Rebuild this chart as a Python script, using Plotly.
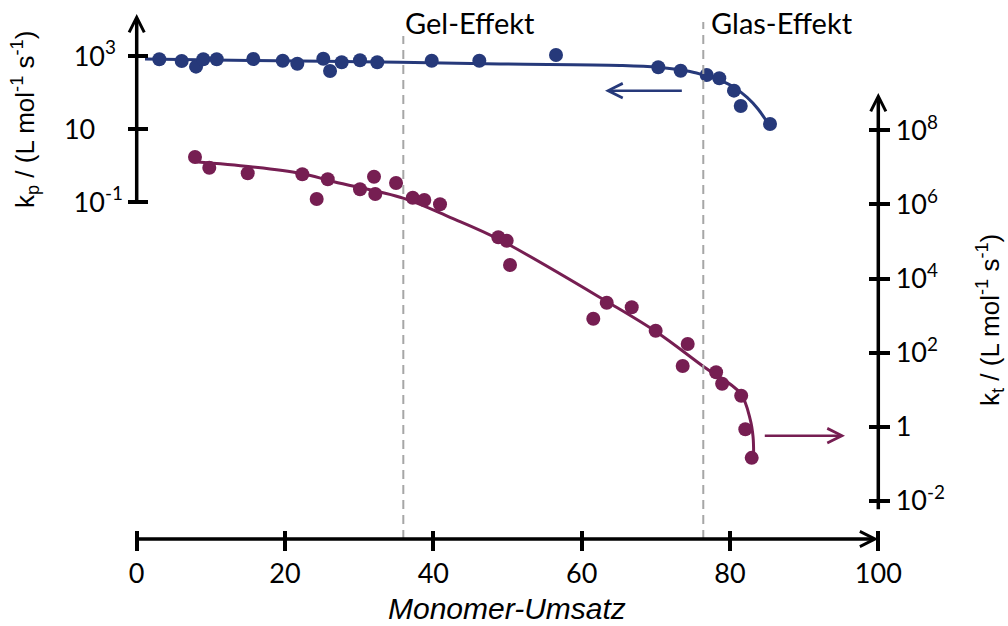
import plotly.graph_objects as go

# ---------------- data ----------------
kp_x = [3.05, 6.07, 8.00, 8.98, 10.79, 15.72, 19.69, 21.66, 25.16, 26.07, 27.64,
        30.11, 32.44, 39.78, 46.20, 56.54, 70.33, 73.35, 76.86, 78.56, 80.54,
        81.45, 85.40]
kp_y = [817, 735, 513, 817, 817, 833, 748, 619, 849, 391, 676,
        767, 676, 748, 748, 1072, 493, 398, 303, 246, 113,
        43, 13.8]

kp_fit_x = [1.12, 15.28, 35.50, 48.99, 65.17, 70.30, 74.61, 76.86, 78.66, 80.54, 82.31, 83.78, 84.99]
kp_fit_y = [833, 757, 676, 608, 553, 493, 378, 285, 215, 140, 73.5, 35.6, 15.7]

kt_x = [7.86, 9.79, 14.97, 22.33, 24.27, 25.76, 30.11, 32.00, 32.17, 34.97, 37.22,
        38.78, 40.90, 48.76, 49.89, 50.34, 61.57, 63.38, 66.75, 69.98, 73.62,
        74.30, 78.13, 78.94, 81.51, 82.07, 82.93]
kt_log = [7.282, 6.993, 6.842, 6.815, 6.148, 6.680, 6.410, 6.750, 6.283, 6.580, 6.183,
          6.121, 6.005, 5.114, 5.022, 4.366, 2.916, 3.348, 3.224, 2.592, 1.639,
          2.233, 1.469, 1.161, 0.837, -0.070, -0.840]
kt_y = [10 ** v for v in kt_log]

kt_fit_x = [7.86, 15.36, 22.10, 26.59, 36.02, 42.32, 48.83, 63.44, 70.04, 76.46,
            81.40, 82.75, 83.11, 83.19]
kt_fit_log = [7.155, 7.020, 6.842, 6.615, 6.167, 5.648, 5.060, 3.375, 2.565, 1.620,
              0.902, 0.181, -0.269, -0.718]
kt_fit_y = [10 ** v for v in kt_fit_log]

x_ticks = [0, 20, 40, 60, 80, 100]
kp_ticks = [1e3, 10, 0.1]
kp_ticktext = ["10<sup>3</sup>\u00a0", "10\u00a0\u00a0\u00a0\u00a0", "10<sup>-1</sup>"]
kt_ticks = [1e8, 1e6, 1e4, 1e2, 1, 1e-2]
kt_ticktext = ["10<sup>8</sup>", "10<sup>6</sup>", "10<sup>4</sup>", "10<sup>2</sup>", "1", "10<sup>-2</sup>"]

gel_x = 35.95
glas_x = 76.40

BLUE = "#26397A"
PURPLE = "#761E52"
W, H = 1008, 626

def px_x(p):
    return p / W

def px_y(p):
    return 1 - p / H

fig = go.Figure()
fig.add_trace(go.Scatter(x=kp_fit_x, y=kp_fit_y, mode="lines", line=dict(color=BLUE, width=3, shape="spline"),
                         yaxis="y", showlegend=False, hoverinfo="skip"))
fig.add_trace(go.Scatter(x=kp_x, y=kp_y, mode="markers", marker=dict(color=BLUE, size=14),
                         yaxis="y", showlegend=False))
fig.add_trace(go.Scatter(x=kt_fit_x, y=kt_fit_y, mode="lines", line=dict(color=PURPLE, width=3, shape="spline"),
                         yaxis="y2", showlegend=False, hoverinfo="skip"))
fig.add_trace(go.Scatter(x=kt_x, y=kt_y, mode="markers", marker=dict(color=PURPLE, size=14),
                         yaxis="y2", showlegend=False))

tickfont = dict(family="Lato", size=27, color="black")

fig.update_layout(
    template="none",
    width=W, height=H,
    margin=dict(l=0, r=0, t=0, b=0, pad=0, autoexpand=False),
    paper_bgcolor="white", plot_bgcolor="white",
    xaxis=dict(domain=[px_x(136.7), px_x(878.3)], range=[0, 100], anchor="free", automargin=False,
               position=px_y(529.5), showgrid=False, zeroline=False, showline=False,
               tickvals=x_ticks, ticks="outside", ticklen=20, tickwidth=3.5, tickcolor="black",
               tickfont=tickfont),
    yaxis=dict(type="log", domain=[0, 1], range=[-12.616, 4.537], anchor="free", automargin=False,
               position=px_x(148.3), side="left", showgrid=False, zeroline=False, showline=False,
               tickvals=kp_ticks, ticktext=kp_ticktext, ticks="outside", ticklen=20, tickwidth=3.5,
               tickcolor="black", tickfont=tickfont),
    yaxis2=dict(type="log", domain=[0, 1], range=[-5.380, 11.521], anchor="free", overlaying="y",
                automargin=False,
                position=px_x(868.3), side="right", showgrid=False, zeroline=False, showline=False,
                tickvals=kt_ticks, ticktext=kt_ticktext, ticks="outside", ticklen=21, tickwidth=3.5,
                tickcolor="black", tickfont=tickfont),
)

# axis lines with arrow heads
axis_arrow = dict(text="", showarrow=True, arrowhead=5, arrowwidth=3.5, arrowsize=0.85,
                  arrowcolor="black", standoff=0, startstandoff=0)
fig.add_annotation(x=0, y=4.153, xref="x", yref="y", ax=0, ay=-1, axref="x", ayref="y", **axis_arrow)
fig.add_annotation(x=100, y=9.01, xref="x", yref="y2", ax=100, ay=-2.267, axref="x", ayref="y2", **axis_arrow)
fig.add_annotation(x=100, y=px_y(539), xref="x", yref="paper", ax=0, ay=0, axref="x", ayref="pixel", **axis_arrow)

# direction arrows
fig.add_annotation(x=63.15, y=2.052, xref="x", yref="y", ax=73.71, ay=2.052, axref="x", ayref="y",
                   text="", showarrow=True, arrowhead=5, arrowwidth=2.6, arrowsize=1.1,
                   arrowcolor=BLUE, standoff=0)
fig.add_annotation(x=95.51, y=-0.242, xref="x", yref="y2", ax=84.49, ay=-0.242, axref="x", ayref="y2",
                   text="", showarrow=True, arrowhead=5, arrowwidth=2.6, arrowsize=1.1,
                   arrowcolor=PURPLE, standoff=0)

# dashed effect markers
fig.add_shape(type="line", xref="x", yref="paper", x0=gel_x, x1=gel_x, y0=px_y(539), y1=px_y(36),
              line=dict(color="#A6A6A6", width=2, dash="9px,6px"))
fig.add_shape(type="line", xref="x", yref="paper", x0=glas_x, x1=glas_x, y0=px_y(539), y1=px_y(22),
              line=dict(color="#A6A6A6", width=2, dash="9px,6px"))
fig.add_annotation(x=gel_x, y=px_y(22), xref="x", yref="paper", text="Gel-Effekt", showarrow=False,
                   xanchor="left", yanchor="middle", xshift=0, font=dict(family="Lato", size=29, color="black"))
fig.add_annotation(x=glas_x, y=px_y(22), xref="x", yref="paper", text="Glas-Effekt", showarrow=False,
                   xanchor="left", yanchor="middle", xshift=6, font=dict(family="Lato", size=29, color="black"))

# axis titles
title_font = dict(family="Liberation Sans", size=26, color="black")
fig.add_annotation(x=px_x(25), y=px_y(120), xref="paper", yref="paper", textangle=-90, showarrow=False,
                   xanchor="center", yanchor="middle",
                   text="k<sub>p</sub> / (L mol<sup>-1</sup> s<sup>-1</sup>)", font=title_font)
fig.add_annotation(x=px_x(990), y=px_y(320), xref="paper", yref="paper", textangle=-90, showarrow=False,
                   xanchor="center", yanchor="middle",
                   text="k<sub>t</sub> / (L mol<sup>-1</sup> s<sup>-1</sup>)", font=title_font)
fig.add_annotation(x=px_x(507), y=px_y(608), xref="paper", yref="paper", showarrow=False,
                   xanchor="center", yanchor="middle",
                   text="<i>Monomer-Umsatz</i>", font=dict(family="Liberation Sans", size=30, color="black"))

fig.write_html("out.html", config={"displayModeBar": False},
               post_script="document.body.style.margin='0';document.body.style.overflow='hidden';")
